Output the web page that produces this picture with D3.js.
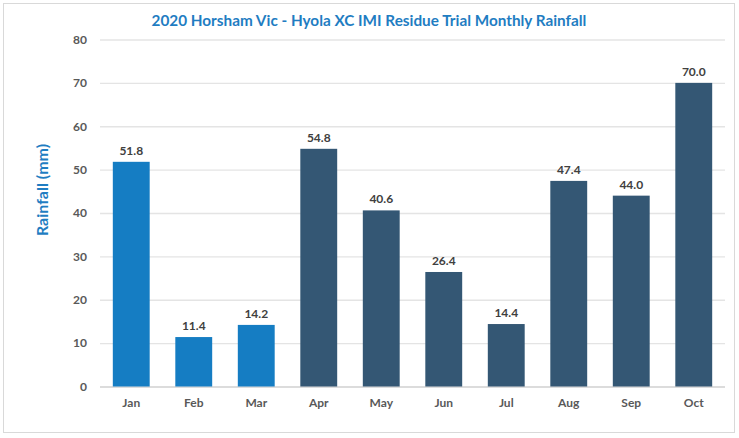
<!DOCTYPE html>
<html>
<head>
<meta charset="utf-8">
<script src="https://cdn.jsdelivr.net/npm/d3@7"></script>
<style>
  body { margin: 0; background: #fff; }
  text { font-family: Lato, "Open Sans", sans-serif; }
</style>
</head>
<body>
<div id="chart"></div>
<script>
// monthly rainfall, 2020 Horsham trial
var months = ["Jan", "Feb", "Mar", "Apr", "May", "Jun", "Jul", "Aug", "Sep", "Oct"];
var rainfall = [51.8, 11.4, 14.2, 54.8, 40.6, 26.4, 14.4, 47.4, 44.0, 70.0];
// months before sowing, drawn in the lighter blue
var preSowing = ["Jan", "Feb", "Mar"];
var yTicks = [0, 10, 20, 30, 40, 50, 60, 70, 80];

var width = 739, height = 438;
var margin = {top: 39.5, right: 14, bottom: 51.5, left: 100};
var innerW = width - margin.left - margin.right,
    innerH = height - margin.top - margin.bottom;

var svg = d3.select("#chart").append("svg")
    .attr("width", width)
    .attr("height", height);

// outer frame
svg.append("rect")
    .attr("x", 3.5).attr("y", 3.5)
    .attr("width", 731).attr("height", 429)
    .attr("fill", "#fff")
    .attr("stroke", "#d9d9d9");

svg.append("text")
    .attr("x", 369).attr("y", 26)
    .attr("text-anchor", "middle")
    .attr("fill", "#1f7dc2")
    .attr("font-weight", "bold")
    .attr("font-size", "15.3px")
    .text("2020 Horsham Vic - Hyola XC IMI Residue Trial Monthly Rainfall");

svg.append("text")
    .attr("transform", "translate(48,190) rotate(-90)")
    .attr("text-anchor", "middle")
    .attr("fill", "#1f7dc2")
    .attr("font-weight", "bold")
    .attr("font-size", "16px")
    .text("Rainfall (mm)");

var g = svg.append("g")
    .attr("transform", "translate(" + margin.left + "," + margin.top + ")");

var x = d3.scaleBand().domain(months).range([0, innerW]).paddingInner(0.41).paddingOuter(0.205);
var y = d3.scaleLinear().domain([0, 80]).range([innerH, 0]);

// gridlines
var yAxis = g.append("g")
    .call(d3.axisLeft(y).tickValues(yTicks).tickSize(-innerW).tickPadding(13).tickFormat(d3.format("d")));
yAxis.select(".domain").remove();
yAxis.selectAll("line")
    .attr("stroke", function(d) { return d === 0 ? "#d0d0d0" : "#e4e4e4"; })
    .attr("stroke-width", 1.3);
yAxis.selectAll("text")
    .attr("fill", "#595959")
    .attr("font-size", "12px")
    .attr("font-weight", "bold");

var xAxis = g.append("g")
    .attr("transform", "translate(0," + innerH + ")")
    .call(d3.axisBottom(x).tickSize(0).tickPadding(12));
xAxis.select(".domain").remove();
xAxis.selectAll("text")
    .attr("fill", "#595959")
    .attr("font-size", "12px")
    .attr("font-weight", "bold");

var data = months.map(function(m, i) { return {month: m, value: rainfall[i]}; });

g.selectAll(".bar").data(data)
  .enter().append("rect")
    .attr("class", "bar")
    .attr("x", function(d) { return x(d.month); })
    .attr("y", function(d) { return y(d.value); })
    .attr("width", x.bandwidth())
    .attr("height", function(d) { return innerH - y(d.value); })
    .attr("fill", function(d) { return preSowing.indexOf(d.month) >= 0 ? "#157dc3" : "#345774"; });

g.selectAll(".label").data(data)
  .enter().append("text")
    .attr("class", "label")
    .attr("x", function(d) { return x(d.month) + x.bandwidth() / 2; })
    .attr("y", function(d) { return y(d.value) - 7; })
    .attr("text-anchor", "middle")
    .attr("fill", "#404040")
    .attr("font-size", "12px")
    .attr("font-weight", "bold")
    .text(function(d) { return d.value.toFixed(1); });
</script>
</body>
</html>
